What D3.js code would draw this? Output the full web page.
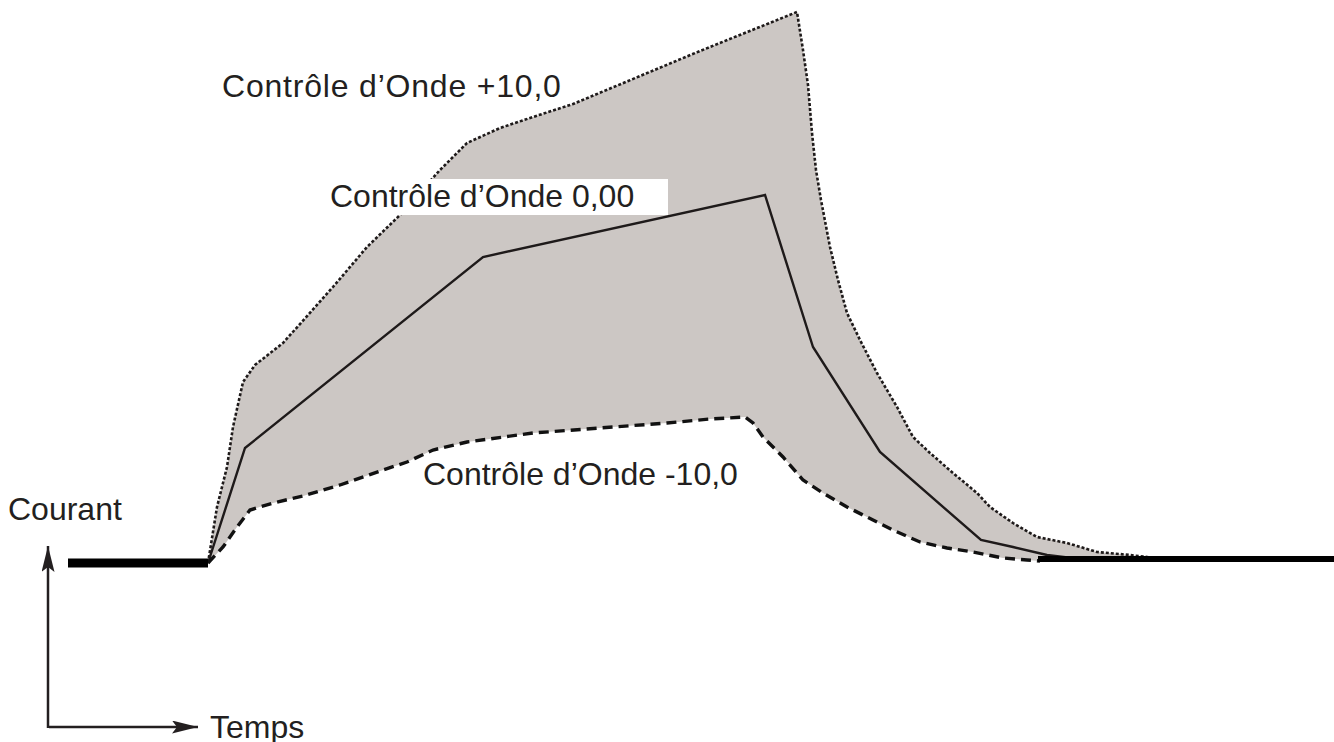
<!DOCTYPE html>
<html>
<head>
<meta charset="utf-8">
<script src="https://cdn.jsdelivr.net/npm/d3@7"></script>
<style>
  body { margin: 0; background: #fff; }
  text { font-family: "Liberation Sans", Arial, Helvetica, sans-serif; fill: #231f20; }
</style>
</head>
<body>
<svg width="1334" height="742"></svg>
<script>
// time (arbitrary units) / current (arbitrary units)
var upperT = [14, 14.9, 15.9, 16.5, 17.5, 18.7, 21.5, 26.5, 29.9, 33.2, 37.2, 39.9, 43.2, 46.5, 50.5, 63.2, 72.9,
  73.5, 74.0, 74.4, 74.8, 75.3, 76.2, 77, 77.9, 79.2, 80.9, 82.9, 84.5, 86.2, 88.5, 90.9, 92.2, 94.5, 96.9, 99.9, 102.9, 106.2, 109.5, 111.2];
var upperC = [0, 11.2, 19.2, 27.2, 36.2, 39.6, 44, 55.2, 63.2, 69.6, 78.6, 84, 87, 89.2, 91.8, 102.4, 110.2,
  102.6, 95.6, 86, 78.6, 72.6, 63.2, 56.6, 50, 44.6, 38, 31.2, 25.2, 22, 18, 14, 11.2, 8, 5.2, 4, 2.2, 1.6, 0.8, 0.6];

var midT = [14, 17.7, 41.5, 69.7, 74.5, 81.2, 91.3, 94.5, 97.9, 101.2];
var midC = [0, 23, 61.2, 73.6, 43.2, 22.2, 4.6, 3.2, 1.6, 0.8];

var lowerT = [14, 15.5, 16.9, 18.2, 20.5, 23.5, 27.2, 31.5, 33.9, 36.5, 39.9, 46.5, 53.2, 59.9, 64.2, 67.7,
  68.5, 69.5, 71.5, 73.5, 75.5, 77.9, 80.5, 82.5, 85.2, 87.9, 90.5, 93.5, 95.9, 97.2];
var lowerC = [0, 3.2, 7.2, 10.6, 12, 13.4, 15.6, 18.6, 20.2, 22.6, 24.2, 26, 27, 28, 28.8, 29.2,
  28, 25.2, 21.2, 16.6, 14, 11.2, 8.6, 6.6, 4.2, 3, 2.2, 1, 0.6, 0.4];

var baseLeftT = [0, 14], baseLeftC = [0, 0];
var baseRightT = [97, 126.6], baseRightC = [0.8, 0.8];

var labels = ["Contrôle d\u2019Onde +10,0", "Contrôle d\u2019Onde 0,00", "Contrôle d\u2019Onde -10,0"];
var axisLabels = ["Courant", "Temps"];

var svg = d3.select("svg");
var x = d3.scaleLinear().domain([0, 126.6]).range([68, 1334]);
var y = d3.scaleLinear().domain([0, 110.2]).range([563, 12]);

function pts(ts, cs) { return ts.map(function(t, i) { return [t, cs[i]]; }); }
var line = d3.line().x(function(d) { return x(d[0]); }).y(function(d) { return y(d[1]); });

var upper = pts(upperT, upperC), mid = pts(midT, midC), lower = pts(lowerT, lowerC);

// shaded band between +10 and -10
svg.append("path")
  .attr("d", line(upper.concat(lower.slice().reverse())) + "Z")
  .attr("fill", "#ccc7c4");

svg.append("path").attr("d", line(upper))
  .attr("fill", "none").attr("stroke", "#1e1a1a").attr("stroke-width", 2.6)
  .attr("stroke-dasharray", "3,2");
svg.append("path").attr("d", line(mid))
  .attr("fill", "none").attr("stroke", "#1e1a1a").attr("stroke-width", 2.4);
svg.append("path").attr("d", line(lower))
  .attr("fill", "none").attr("stroke", "#111").attr("stroke-width", 3.4)
  .attr("stroke-dasharray", "10,6");

svg.append("path").attr("d", line(pts(baseLeftT, baseLeftC)))
  .attr("fill", "none").attr("stroke", "#000").attr("stroke-width", 9);
svg.append("path").attr("d", line(pts(baseRightT, baseRightC)))
  .attr("fill", "none").attr("stroke", "#000").attr("stroke-width", 6);

// axis arrows
var defs = svg.append("defs");
defs.append("marker").attr("id", "arr")
  .attr("viewBox", "0 0 26 13").attr("refX", 26).attr("refY", 6.5)
  .attr("markerWidth", 26).attr("markerHeight", 13)
  .attr("markerUnits", "userSpaceOnUse").attr("orient", "auto")
  .append("path").attr("d", "M0,0 L26,6.5 L0,13 L5,6.5 Z").attr("fill", "#231f20");

svg.append("line").attr("x1", 48).attr("y1", 728).attr("x2", 48).attr("y2", 546)
  .attr("stroke", "#231f20").attr("stroke-width", 2.5).attr("marker-end", "url(#arr)");
svg.append("line").attr("x1", 49).attr("y1", 727).attr("x2", 198).attr("y2", 727)
  .attr("stroke", "#231f20").attr("stroke-width", 2.5).attr("marker-end", "url(#arr)");

// labels
svg.append("rect").attr("x", 322).attr("y", 179).attr("width", 346).attr("height", 36).attr("fill", "#fff");

svg.append("text").attr("x", 222).attr("y", 97).attr("font-size", 32).attr("letter-spacing", 0.8).text(labels[0]);
svg.append("text").attr("x", 330).attr("y", 207).attr("font-size", 32).text(labels[1]);
svg.append("text").attr("x", 423).attr("y", 485).attr("font-size", 32).text(labels[2]);
svg.append("text").attr("x", 8).attr("y", 520).attr("font-size", 32).text(axisLabels[0]);
svg.append("text").attr("x", 210).attr("y", 738).attr("font-size", 32).text(axisLabels[1]);
</script>
</body>
</html>
